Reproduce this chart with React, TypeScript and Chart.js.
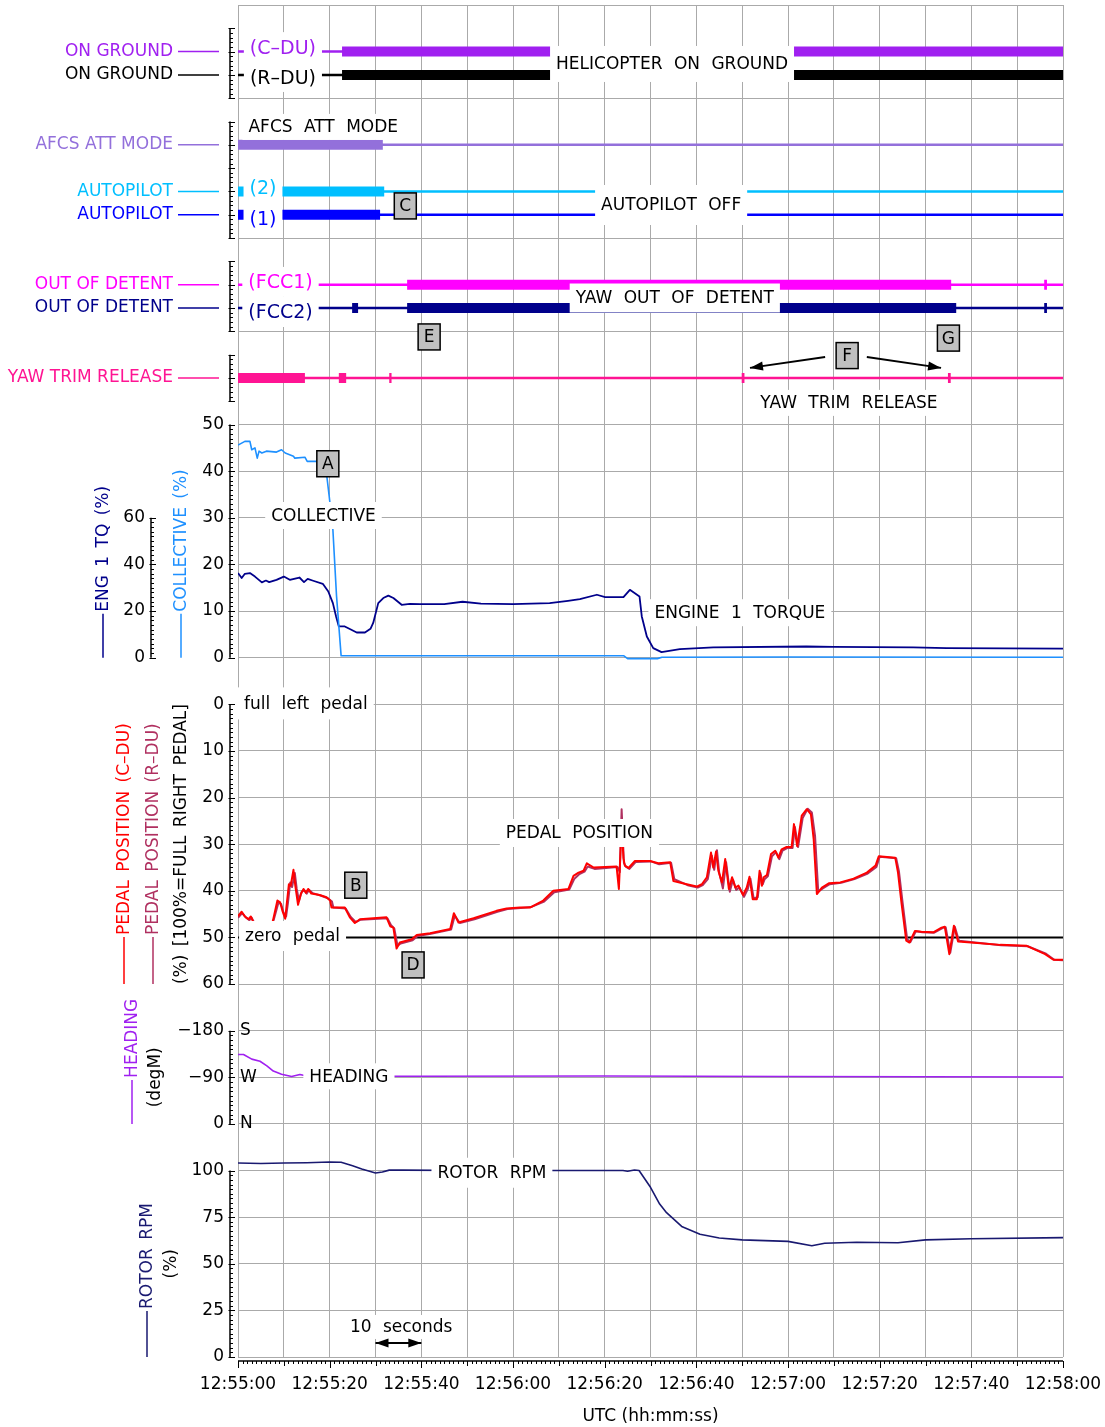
import React, { useEffect, useRef } from 'react';
import { Chart, registerables } from 'chart.js';

Chart.register(...registerables);

type P = [number, number];

const FAMILY = '"DejaVu Sans", sans-serif';
const GRID = '#aaaaaa';

// ---------- time axis (seconds after 12:55:00) ----------
const TIME_GRID = [0, 10, 20, 30, 40, 50, 60, 70, 80, 90, 100, 110, 120, 130, 140, 150, 160, 170, 180];
const TIME_LABELS = ['12:55:00', '12:55:20', '12:55:40', '12:56:00', '12:56:20', '12:56:40', '12:57:00', '12:57:20', '12:57:40', '12:58:00'];

// ---------- discrete signals ----------
const DISCRETE_NAMES = ['ON GROUND', 'ON GROUND', 'AFCS ATT MODE', 'AUTOPILOT', 'AUTOPILOT', 'OUT OF DETENT', 'OUT OF DETENT', 'YAW TRIM RELEASE'];
const DISCRETE_LEVELS = [2, 3, 6, 8, 9, 12, 13, 16];
const DISCRETE_COLORS = ['#a020f0', '#000000', '#9370db', '#00bfff', '#0000ff', '#ff00ff', '#00008b', '#ff1493'];
const DISCRETE_DIVIDERS = [0, 4, 10, 14];

const GROUND_CDU_ON: P[] = [[22.7, 180]];
const GROUND_RDU_ON: P[] = [[22.7, 180]];
const AFCS_ATT_ON: P[] = [[0, 31.6]];
const AUTOPILOT2_ON: P[] = [[0, 31.9]];
const AUTOPILOT1_ON: P[] = [[0, 31.0]];
const FCC1_DETENT_ON: P[] = [[36.9, 155.6], [175.9, 176.5]];
const FCC2_DETENT_ON: P[] = [[24.9, 26.2], [36.9, 156.7], [175.9, 176.5]];
const YAW_TRIM_ON: P[] = [[0, 14.6], [22.0, 23.6], [33.0, 33.5], [109.9, 110.5], [154.9, 155.5]];
const DISCRETE_ON = [GROUND_CDU_ON, GROUND_RDU_ON, AFCS_ATT_ON, AUTOPILOT2_ON, AUTOPILOT1_ON, FCC1_DETENT_ON, FCC2_DETENT_ON, YAW_TRIM_ON];

// ---------- analog signals ----------
const COLLECTIVE: P[] = [
  [0, 45.6], [1.5, 46.4], [2.6, 46.4], [3, 44.6], [3.7, 45], [4.2, 42.8], [4.6, 44.3], [5.2, 43.9], [6.2, 44.3],
  [8.4, 44.1], [9.5, 44.6], [10.3, 43.9], [12.1, 43.2], [12.4, 42.8], [14.6, 43], [15.1, 42.1], [18.6, 42.1],
  [19.3, 39.6], [19.9, 34.6], [20.7, 27.5], [21.5, 13.2], [22.5, 0.4], [40, 0.4], [60, 0.4], [84.2, 0.4],
  [85, -0.2], [91.5, -0.2], [92.5, 0.1], [120, 0.15], [180, 0.1],
];
const ENG1_TORQUE: P[] = [
  [0, 36.3], [0.8, 34.2], [1.5, 36], [2.6, 36.3], [3.7, 34.8], [5.2, 32.3], [6.1, 33.1], [6.8, 32.4], [8.4, 33.4],
  [10, 34.8], [11.3, 33.4], [13.4, 34.4], [14.4, 32.4], [15.2, 33.8], [16.4, 33], [18.5, 31.7], [19.7, 28.4],
  [20.7, 23.4], [21.4, 17.7], [22, 13.4], [23.3, 13.4], [24.4, 12.3], [25.9, 10.8], [27.7, 10.8], [28.9, 12.4],
  [29.5, 14.9], [30.6, 23.4], [31.7, 25.6], [32.8, 26.6], [33.9, 25.6], [35.7, 22.7], [37.5, 23.1], [39.7, 23],
  [45, 23], [49, 24], [53, 23.2], [60, 23], [68, 23.4], [72, 24.4], [74.6, 25.1], [78.3, 27], [80.1, 26],
  [84.1, 26], [85.5, 29.1], [87.6, 26.3], [88.1, 17.7], [89.2, 9.1], [90.6, 4.1], [92.4, 2.4], [96.4, 3.7],
  [103.7, 4.4], [124, 4.8], [129.9, 4.6], [147.3, 4.4], [154.6, 4.1], [180, 3.9],
];
const PEDAL_CDU: P[] = [
  [0, 45.4], [0.8, 44.5], [1.5, 45.5], [2.3, 46.1], [2.8, 45.5], [3.2, 46.4], [4, 48], [5.5, 49], [7, 48.5],
  [7.6, 46.5], [8.6, 42.1], [9.2, 42.5], [9.7, 44.3], [10.3, 46], [10.6, 43.2], [11.1, 38.6], [11.5, 38.9],
  [12.1, 35.5], [12.5, 38.9], [13.1, 43], [13.7, 40.7], [14.3, 39.6], [14.8, 40.4], [15.3, 39.6], [16, 40.6],
  [17.8, 40.9], [19.3, 41.4], [20.1, 42.1], [20.4, 43.6], [23.3, 43.6], [24.4, 45.7], [25.5, 46.9], [26.6, 46.1],
  [32.4, 45.7], [33.2, 47.6], [33.9, 47.9], [34.6, 52.4], [35.3, 51.1], [37.9, 50.4], [39, 49.5], [41.9, 49.1],
  [46.3, 48.2], [47.1, 44.8], [48.1, 46.8], [51.4, 45.9], [56.4, 44.3], [58.6, 43.8], [61.5, 43.6], [63.7, 43.6],
  [66.6, 42.1], [68.8, 40], [72.1, 39.6], [73.2, 36.8], [74.3, 36.1], [75.4, 35.7], [76.1, 34.1], [77.6, 35],
  [82.6, 34.8], [83.1, 39.6], [83.7, 26], [84.1, 33], [84.4, 34.6], [85.2, 35.1], [86.6, 33.6], [89.9, 33.6],
  [91.7, 34.1], [94.3, 33.9], [95, 37.9], [97.9, 38.6], [100.1, 39.1], [101.2, 38.6], [102.3, 37.1], [103.2, 31.8],
  [103.7, 35], [104.3, 31.6], [104.8, 35.7], [105.6, 38.2], [106.3, 33.2], [107.1, 39.6], [107.8, 37.1],
  [108.5, 39.3], [109.2, 38.9], [110.2, 40.9], [111, 39.3], [111.6, 37], [112.3, 41.8], [113.2, 41.8],
  [113.8, 35.7], [114.3, 38.9], [114.7, 37.1], [115.4, 36.6], [116.3, 32.1], [117.2, 31.4], [117.9, 32.9],
  [118.6, 31.1], [119.7, 30.6], [120.8, 30.6], [121.3, 25.7], [122, 30.4], [123, 23.9], [124.1, 22.5],
  [125, 23.6], [125.6, 28.9], [126.3, 40.7], [127.4, 39.3], [128.9, 38.4], [131.4, 38.2], [134.3, 37.4],
  [137.2, 36.1], [139.1, 34.6], [139.8, 32.6], [143.4, 32.9], [144, 36.1], [144.8, 42.9], [145.8, 50.7],
  [146.5, 51.1], [147.7, 48.6], [149.1, 48.8], [151.7, 48.9], [153.5, 47.9], [154.2, 47.7], [155.2, 53.6],
  [156.2, 47.5], [157.1, 50.9], [166.3, 51.6], [172.1, 51.8], [176.1, 53.6], [177.9, 54.8], [180, 54.8],
];
const PEDAL_RDU: P[] = [
  [0, 45.8], [0.9, 44.8], [1.7, 45.7], [2.5, 46.3], [3, 45.8], [3.4, 46.6], [4, 48], [5.5, 49], [7, 48.5],
  [7.8, 46.2], [8.8, 42.6], [9.4, 42.8], [9.9, 44.6], [10.5, 45.5], [10.9, 42.6], [11.4, 38.2], [11.8, 39.2],
  [12.4, 36.2], [12.8, 39.5], [13.3, 42.2], [13.9, 40.2], [14.5, 39.9], [15, 40.6], [15.5, 39.8], [16.3, 40.5],
  [18, 41], [19.6, 41.6], [20.5, 42.3], [20.8, 43.6], [23.5, 43.8], [24.6, 45.6], [25.7, 46.7], [26.8, 46.2],
  [32.6, 45.9], [33.4, 47.4], [34.1, 48.1], [34.8, 51.8], [35.5, 51.3], [38.1, 50.6], [39.2, 49.7], [42.1, 49.2],
  [46.5, 48.3], [47.3, 45.3], [48.4, 46.9], [51.6, 46.1], [56.6, 44.5], [58.8, 43.9], [61.7, 43.7], [63.9, 43.5],
  [66.8, 42.3], [69, 40.3], [72.3, 39.7], [73.4, 37.4], [74.5, 36.4], [75.6, 35.9], [76.3, 34.8], [77.8, 35.3],
  [82.8, 34.9], [83.3, 36], [83.7, 22.5], [84.2, 34], [84.6, 34.8], [85.4, 35.3], [86.8, 33.8], [90.1, 33.7],
  [91.9, 34.3], [94.5, 34], [95.2, 37.5], [98.1, 38.8], [100.3, 39.3], [101.4, 38.8], [102.5, 37.5], [103.4, 32.5],
  [103.9, 35.5], [104.5, 31.3], [105, 36.2], [105.8, 39.5], [106.5, 33.9], [107.3, 40.2], [108, 37.6],
  [108.7, 39.8], [109.4, 39.3], [110.4, 41.3], [111.2, 39.7], [111.8, 37.4], [112.5, 41.6], [113.4, 41.4],
  [114, 36.2], [114.5, 38.6], [114.9, 37.5], [115.6, 36.9], [116.5, 32.6], [117.4, 31.7], [118.1, 33.2],
  [118.8, 31.4], [119.9, 30.8], [121, 30.8], [121.5, 26.3], [122.2, 30.6], [123.2, 24.4], [124.3, 22.4],
  [125.2, 23.2], [125.9, 28.2], [126.6, 40.2], [127.6, 39.5], [129.1, 38.6], [131.6, 38.3], [134.5, 37.5],
  [137.4, 36.3], [139.3, 34.9], [140, 32.7], [143.6, 33], [144.2, 35.8], [145, 42.5], [146, 50.4], [146.7, 51],
  [147.9, 48.7], [149.3, 48.9], [151.9, 49], [153.7, 48], [154.4, 47.8], [155.4, 53.3], [156.4, 47.7],
  [157.3, 50.7], [166.5, 51.7], [172.3, 51.9], [176.3, 53.5], [178.1, 54.8], [180, 54.9],
];
const ZERO_PEDAL = 50;
const HEADING: P[] = [
  [0, -134], [1.2, -134], [3, -125], [4.8, -121], [6.3, -112], [7.7, -102], [9.5, -96], [11.7, -91.5],
  [13.5, -95.5], [15, -92.5], [20, -92], [40, -92], [80, -92.5], [120, -91.5], [180, -90.5],
];
const ROTOR_RPM: P[] = [
  [0, 104], [5, 103.8], [10, 104], [15, 104.2], [20, 104.6], [22.5, 104.4], [25, 102.5], [27, 100.8], [30, 98.7],
  [31.5, 99.2], [33, 100.2], [36, 100.2], [50, 100], [70, 100], [84, 100], [85, 99.6], [86.5, 100.3], [87.5, 100],
  [90, 91], [92, 82], [93.5, 77.4], [96.8, 70], [100.8, 65.8], [105, 63.8], [110, 62.8], [120, 62], [125.2, 59.7],
  [128, 61], [135, 61.5], [144, 61.3], [150, 62.8], [160, 63.4], [180, 64],
];

// ---------- axis ticks ----------
const COLLECTIVE_TICKS = [0, 10, 20, 30, 40, 50];
const TORQUE_TICKS = [0, 20, 40, 60];
const PEDAL_TICKS = [0, 10, 20, 30, 40, 50, 60];
const HEADING_TICKS = [-180, -90, 0];
const HEADING_LABELS = ['\u2212180', '\u221290', '0'];
const HEADING_DIRS = ['S', 'W', 'N'];
const RPM_TICKS = [0, 25, 50, 75, 100];

// ---------- annotations (plot coordinates) ----------
const NOTES = [
  { text: 'HELICOPTER ON GROUND', t: 94.7, axis: 'yd', v: 2.53, h: 36 },
  { text: 'AFCS ATT MODE', t: 18.6, axis: 'yd', v: 5.23, h: 26 },
  { text: 'AUTOPILOT OFF', t: 94.5, axis: 'yd', v: 8.58, h: 40 },
  { text: 'YAW OUT OF DETENT', t: 95.3, axis: 'yd', v: 12.57, h: 29 },
  { text: 'YAW TRIM RELEASE', t: 133.3, axis: 'yd', v: 17.07, h: 26 },
  { text: 'COLLECTIVE', t: 18.65, axis: 'yc', v: 30.5, h: 27 },
  { text: 'ENGINE 1 TORQUE', t: 109.5, axis: 'yc', v: 9.65, h: 27 },
  { text: 'full left pedal', t: 14.8, axis: 'yp', v: -0.2, h: 32 },
  { text: 'PEDAL POSITION', t: 74.5, axis: 'yp', v: 27.6, h: 28 },
  { text: 'zero pedal', t: 11.9, axis: 'yp', v: 49.7, h: 30 },
  { text: 'HEADING', t: 24.2, axis: 'yh', v: -91.9, h: 26 },
  { text: 'ROTOR RPM', t: 55.4, axis: 'yr', v: 98.8, h: 30 },
  { text: '10 seconds', t: 35.6, axis: 'yr', v: 16.1, h: 24 },
];
const SIGNAL_TAGS = [
  { text: '(C\u2013DU)', t: 9.8, v: 1.85, h: 32, color: '#a020f0' },
  { text: '(R\u2013DU)', t: 9.8, v: 3.13, h: 28, color: '#000000' },
  { text: '(2)', t: 5.45, v: 7.85, h: 30, color: '#00bfff' },
  { text: '(1)', t: 5.45, v: 9.18, h: 30, color: '#0000ff' },
  { text: '(FCC1)', t: 9.27, v: 11.88, h: 30, color: '#ff00ff' },
  { text: '(FCC2)', t: 9.27, v: 13.17, h: 30, color: '#00008b' },
];
const LETTERS = [
  { text: 'A', t: 19.6, axis: 'yc', v: 41.6 },
  { text: 'B', t: 25.7, axis: 'yp', v: 38.8 },
  { text: 'C', t: 36.5, axis: 'yd', v: 8.62 },
  { text: 'D', t: 38.2, axis: 'yp', v: 55.9 },
  { text: 'E', t: 41.7, axis: 'yd', v: 14.24 },
  { text: 'F', t: 132.9, axis: 'yd', v: 15.04 },
  { text: 'G', t: 155, axis: 'yd', v: 14.29 },
];
const ARROWS = [
  { axis: 'yd', t0: 128.1, v0: 15.1, t1: 111.7, v1: 15.57, both: false },
  { axis: 'yd', t0: 137.2, v0: 15.1, t1: 153.4, v1: 15.57, both: false },
  { axis: 'yr', t0: 30, v0: 7.5, t1: 40, v1: 7.5, both: true },
];
const SIDE_TITLES = [
  { text: 'ENG 1 TQ (%)', color: '#00008b', x: 103, axis: 'ytq', v: 0, lead: 44, center: false },
  { text: 'COLLECTIVE (%)', color: '#1e90ff', x: 181, axis: 'yc', v: 0, lead: 44, center: false },
  { text: 'PEDAL POSITION (C\u2013DU)', color: '#ff0000', x: 124, axis: 'yp', v: 60, lead: 47, center: false },
  { text: 'PEDAL POSITION (R\u2013DU)', color: '#b03060', x: 153, axis: 'yp', v: 60, lead: 47, center: false },
  { text: '(%) [100%=FULL RIGHT PEDAL]', color: '#000000', x: 181, axis: 'yp', v: 60, lead: 0, center: false },
  { text: 'HEADING', color: '#a020f0', x: 132, axis: 'yh', v: 0, lead: 44, center: false },
  { text: '(degM)', color: '#000000', x: 155, axis: 'yh', v: -90, lead: 0, center: true },
  { text: 'ROTOR RPM', color: '#191970', x: 147, axis: 'yr', v: 0, lead: 46, center: false },
  { text: '(%)', color: '#000000', x: 171, axis: 'yr', v: 50, lead: 0, center: true },
];
const RULERS = [
  { axis: 'yd', x: 230, from: 1, to: 4, minor: 0.2, major: 1 },
  { axis: 'yd', x: 230, from: 5, to: 10, minor: 0.2, major: 1 },
  { axis: 'yd', x: 230, from: 11, to: 14, minor: 0.2, major: 1 },
  { axis: 'yd', x: 230, from: 15, to: 17, minor: 0.2, major: 1 },
  { axis: 'yc', x: 230, from: 0, to: 50, minor: 1, major: 10 },
  { axis: 'ytq', x: 151, from: 0, to: 60, minor: 2, major: 20 },
  { axis: 'yp', x: 230, from: 0, to: 60, minor: 1, major: 10 },
  { axis: 'yh', x: 230, from: -180, to: 0, minor: 9, major: 90 },
  { axis: 'yr', x: 230, from: 0, to: 100, minor: 2.5, major: 25 },
];

// ---------- layout helpers ----------
const ROWS = 29; // grid rows between plot top and bottom
function band(vA: number, kA: number, vB: number, kB: number) {
  const per = (vB - vA) / (kB - kA);
  const top = vA - kA * per;
  const bottom = vA + (ROWS - kA) * per;
  return top < bottom ? { min: top, max: bottom, reverse: true } : { min: bottom, max: top, reverse: false };
}

const tickFont = { family: FAMILY, size: 17 };
const NOTE_FONT = `17px ${FAMILY}`;
const TAG_FONT = `19px ${FAMILY}`;

function yAxis(range: any, ticks: number[], opts: any = {}) {
  const { labels, padding = 14, grid = true, mirror = false, color = '#000' } = opts;
  return {
    type: 'linear',
    axis: 'y',
    position: 'left',
    bounds: 'data',
    min: range.min,
    max: range.max,
    reverse: range.reverse,
    afterBuildTicks: (s: any) => { s.ticks = ticks.map((v) => ({ value: v })); },
    afterFit: (s: any) => {
      s.width = 0;
      s.paddingTop = 0;
      s.paddingBottom = 0;
      // labels live outside the zero-width box: do not clip them to it
      s._computeLabelArea = () => undefined;
    },
    grid: { display: grid, color: GRID, lineWidth: 1, drawTicks: false },
    border: { display: false },
    ticks: {
      display: labels !== null,
      autoSkip: false,
      mirror,
      padding,
      color,
      font: tickFont,
      callback: (v: number) => {
        if (!labels) return String(v);
        const i = ticks.indexOf(v);
        return i >= 0 ? labels[i] : '';
      },
    },
  };
}

const pts = (a: P[]) => a.map(([x, y]) => ({ x, y }));
function onData(ints: P[], level: number) {
  const out: any[] = [];
  ints.forEach(([a, b], i) => {
    if (i > 0) out.push({ x: (ints[i - 1][1] + a) / 2, y: null });
    out.push({ x: a, y: level }, { x: b, y: level });
  });
  return out;
}
function line(data: any[], axis: string, color: string, width: number, extra: any = {}) {
  return {
    data, yAxisID: axis, xAxisID: 'x', borderColor: color, backgroundColor: color,
    borderWidth: width, pointRadius: 0, tension: 0, fill: false, spanGaps: false,
    borderJoinStyle: 'round', ...extra,
  };
}

function buildDatasets() {
  const ds: any[] = [
    line(pts(PEDAL_CDU), 'yp', '#ff0000', 2),
    line(pts(PEDAL_RDU), 'yp', '#b03060', 2),
    line([{ x: 0, y: ZERO_PEDAL }, { x: 180, y: ZERO_PEDAL }], 'yp', '#000000', 2),
    line(pts(COLLECTIVE), 'yc', '#1e90ff', 1.6),
    line(pts(ENG1_TORQUE), 'ytq', '#00008b', 1.8),
    line(pts(HEADING), 'yh', '#a020f0', 1.6),
    line(pts(ROTOR_RPM), 'yr', '#191970', 1.6),
  ];
  DISCRETE_LEVELS.forEach((lvl, i) => {
    ds.push(line(onData(DISCRETE_ON[i], lvl), 'yd', DISCRETE_COLORS[i], 10, { borderJoinStyle: 'miter' }));
    ds.push(line([{ x: 0, y: lvl }, { x: 180, y: lvl }], 'yd', DISCRETE_COLORS[i], 2.5));
  });
  return ds;
}

function boxText(ctx: any, text: string, x: number, y: number, h: number, padX: number, color: string) {
  const w = ctx.measureText(text).width + 2 * padX;
  ctx.fillStyle = '#ffffff';
  ctx.fillRect(x - w / 2, y - h / 2, w, h);
  ctx.fillStyle = color;
  ctx.textAlign = 'center';
  ctx.textBaseline = 'middle';
  ctx.fillText(text, x, y + 1);
}

function arrowHead(ctx: any, x0: number, y0: number, x1: number, y1: number) {
  const a = Math.atan2(y1 - y0, x1 - x0);
  const L = 13, W = 4.5;
  ctx.beginPath();
  ctx.moveTo(x1, y1);
  ctx.lineTo(x1 - L * Math.cos(a) + W * Math.sin(a), y1 - L * Math.sin(a) - W * Math.cos(a));
  ctx.lineTo(x1 - L * Math.cos(a) - W * Math.sin(a), y1 - L * Math.sin(a) + W * Math.cos(a));
  ctx.closePath();
  ctx.fill();
}

const overlayPlugin = {
  id: 'overlay',
  afterDatasetsDraw(chart: any) {
    const { ctx, scales } = chart;
    const X = scales.x;
    ctx.save();
    ctx.wordSpacing = '6px';
    ctx.font = TAG_FONT;
    for (const g of SIGNAL_TAGS) {
      boxText(ctx, g.text, X.getPixelForValue(g.t), scales.yd.getPixelForValue(g.v), g.h, 6, g.color);
    }
    ctx.font = NOTE_FONT;
    for (const n of NOTES) {
      boxText(ctx, n.text, X.getPixelForValue(n.t), scales[n.axis].getPixelForValue(n.v), n.h, 6, '#000');
    }
    // letter markers
    for (const l of LETTERS) {
      const x = X.getPixelForValue(l.t), y = scales[l.axis].getPixelForValue(l.v);
      ctx.fillStyle = '#c0c0c0';
      ctx.fillRect(x - 11, y - 13, 22, 26);
      ctx.strokeStyle = '#000';
      ctx.lineWidth = 1.5;
      ctx.strokeRect(x - 11, y - 13, 22, 26);
      ctx.fillStyle = '#000';
      ctx.textAlign = 'center';
      ctx.textBaseline = 'middle';
      ctx.fillText(l.text, x, y + 1);
    }
    // arrows
    ctx.strokeStyle = '#000';
    ctx.fillStyle = '#000';
    ctx.lineWidth = 1.8;
    for (const a of ARROWS) {
      const s = scales[a.axis];
      const x0 = X.getPixelForValue(a.t0), y0 = s.getPixelForValue(a.v0);
      const x1 = X.getPixelForValue(a.t1), y1 = s.getPixelForValue(a.v1);
      ctx.beginPath();
      ctx.moveTo(x0, y0);
      ctx.lineTo(x1, y1);
      ctx.stroke();
      arrowHead(ctx, x0, y0, x1, y1);
      if (a.both) arrowHead(ctx, x1, y1, x0, y0);
    }
    ctx.restore();
  },
  afterDraw(chart: any) {
    const { ctx, scales, chartArea } = chart;
    const X = scales.x;
    ctx.save();
    // axis rulers
    ctx.strokeStyle = '#000';
    for (const r of RULERS) {
      const s = scales[r.axis];
      ctx.lineWidth = 1.5;
      ctx.beginPath();
      ctx.moveTo(r.x, s.getPixelForValue(r.from));
      ctx.lineTo(r.x, s.getPixelForValue(r.to));
      ctx.stroke();
      ctx.lineWidth = 1;
      const n = Math.round((r.to - r.from) / r.minor);
      for (let i = 0; i <= n; i++) {
        const v = r.from + i * r.minor;
        const q = v / r.major;
        const major = Math.abs(q - Math.round(q)) < 1e-6;
        const y = Math.round(s.getPixelForValue(v)) + 0.5;
        ctx.beginPath();
        ctx.moveTo(major ? r.x - 1.5 : r.x, y);
        ctx.lineTo(r.x + (major ? 5 : 3), y);
        ctx.stroke();
      }
    }
    // time ruler
    const yb = chartArea.bottom + 4;
    ctx.lineWidth = 1.5;
    ctx.beginPath();
    ctx.moveTo(X.getPixelForValue(0), yb);
    ctx.lineTo(X.getPixelForValue(180), yb);
    ctx.stroke();
    ctx.lineWidth = 1;
    for (let sec = 0; sec <= 180; sec++) {
      const x = Math.round(X.getPixelForValue(sec)) + 0.5;
      const len = sec % 20 === 0 ? 7 : sec % 10 === 0 ? 5 : 3;
      ctx.beginPath();
      ctx.moveTo(x, yb);
      ctx.lineTo(x, yb + len);
      ctx.stroke();
    }
    // discrete label leaders
    ctx.lineWidth = 1.5;
    DISCRETE_LEVELS.forEach((lvl, i) => {
      const y = scales.yd.getPixelForValue(lvl);
      ctx.strokeStyle = DISCRETE_COLORS[i];
      ctx.beginPath();
      ctx.moveTo(178, y);
      ctx.lineTo(219, y);
      ctx.stroke();
    });
    // rotated side titles
    ctx.font = NOTE_FONT;
    ctx.wordSpacing = '3px';
    for (const t of SIDE_TITLES) {
      const y = scales[t.axis].getPixelForValue(t.v);
      ctx.save();
      ctx.translate(t.x, y);
      ctx.rotate(-Math.PI / 2);
      ctx.fillStyle = t.color;
      ctx.strokeStyle = t.color;
      ctx.textBaseline = 'middle';
      if (t.center) {
        ctx.textAlign = 'center';
        ctx.fillText(t.text, 0, 1);
      } else {
        if (t.lead > 0) {
          ctx.lineWidth = 1.5;
          ctx.beginPath();
          ctx.moveTo(0, 0);
          ctx.lineTo(t.lead, 0);
          ctx.stroke();
        }
        ctx.textAlign = 'left';
        ctx.fillText(t.text, t.lead > 0 ? t.lead + 2 : 0, 1);
      }
      ctx.restore();
    }
    ctx.restore();
  },
};

function buildConfig(): any {
  const discrete = band(0, 0, 2, 1);
  return {
    type: 'line',
    data: { datasets: buildDatasets() },
    options: {
      animation: false,
      responsive: false,
      devicePixelRatio: 1,
      events: [],
      layout: { padding: { left: 238, right: 42, top: 5, bottom: 0 } },
      plugins: { legend: { display: false }, tooltip: { enabled: false }, title: { display: false } },
      scales: {
        x: {
          type: 'linear',
          position: 'bottom',
          bounds: 'data',
          min: 0,
          max: 180,
          afterBuildTicks: (s: any) => { s.ticks = TIME_GRID.map((v) => ({ value: v })); },
          afterFit: (s: any) => { s.height = 70; s.paddingLeft = 0; s.paddingRight = 0; },
          grid: { color: GRID, lineWidth: 1, drawTicks: false },
          border: { display: false },
          ticks: {
            autoSkip: false,
            maxRotation: 0,
            minRotation: 0,
            padding: 17,
            color: '#000',
            font: tickFont,
            callback: (v: number) => (v % 20 === 0 ? TIME_LABELS[v / 20] : ''),
          },
          title: {
            display: true,
            text: 'UTC (hh:mm:ss)',
            color: '#000',
            font: tickFont,
            padding: { top: 0, bottom: 0 },
          },
        },
        yd: yAxis(discrete, DISCRETE_DIVIDERS, { labels: null }),
        ydl: yAxis(discrete, DISCRETE_LEVELS, {
          labels: DISCRETE_NAMES, padding: 65, grid: false,
          color: (c: any) => DISCRETE_COLORS[DISCRETE_LEVELS.indexOf(c.tick && c.tick.value)] || '#000',
        }),
        yc: yAxis(band(50, 9, 0, 14), COLLECTIVE_TICKS),
        ytq: yAxis(band(60, 11, 0, 14), TORQUE_TICKS, { padding: 93, grid: false }),
        yp: yAxis(band(0, 15, 60, 21), PEDAL_TICKS),
        yh: yAxis(band(-180, 22, 0, 24), HEADING_TICKS, { labels: HEADING_LABELS }),
        yhd: yAxis(band(-180, 22, 0, 24), HEADING_TICKS, { labels: HEADING_DIRS, mirror: true, padding: 2, grid: false }),
        yr: yAxis(band(100, 25, 0, 29), RPM_TICKS),
      },
    },
    plugins: [overlayPlugin],
  };
}

export default function App() {
  const ref = useRef<HTMLCanvasElement>(null);
  useEffect(() => {
    Chart.defaults.font.family = FAMILY;
    Chart.defaults.font.size = 17;
    Chart.defaults.color = '#000';
    const chart = new Chart(ref.current as HTMLCanvasElement, buildConfig());
    return () => chart.destroy();
  }, []);
  return (
    <div style={{ position: 'absolute', left: 0, top: 0, width: 1105, height: 1427, background: '#ffffff' }}>
      <canvas ref={ref} width={1105} height={1427} style={{ display: 'block', width: 1105, height: 1427 }} />
    </div>
  );
}
